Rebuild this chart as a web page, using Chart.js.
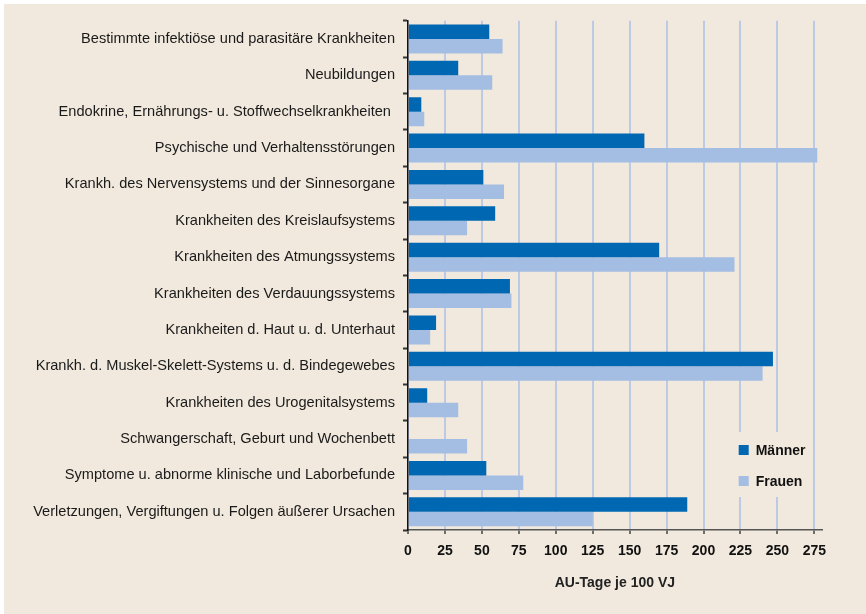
<!DOCTYPE html>
<html>
<head>
<meta charset="utf-8">
<script src="https://cdn.jsdelivr.net/npm/chart.js@4/dist/chart.umd.min.js"></script>
<style>
  html, body { margin: 0; padding: 0; background: #ffffff; overflow: hidden; }
  #wrap { position: absolute; left: 4px; top: 4px; width: 862px; height: 610px; }
</style>
</head>
<body>
<div id="wrap"><canvas id="chart" width="862" height="610"></canvas></div>
<script>
// Diagnosis groups (ICD chapters)
const categories = [
  "Bestimmte infektiöse und parasitäre Krankheiten",
  "Neubildungen",
  "Endokrine, Ernährungs- u. Stoffwechselkrankheiten ",
  "Psychische und Verhaltensstörungen",
  "Krankh. des Nervensystems und der Sinnesorgane",
  "Krankheiten des Kreislaufsystems",
  "Krankheiten des Atmungssystems",
  "Krankheiten des Verdauungssystems",
  "Krankheiten d. Haut u. d. Unterhaut",
  "Krankh. d. Muskel-Skelett-Systems u. d. Bindegewebes",
  "Krankheiten des Urogenitalsystems",
  "Schwangerschaft, Geburt und Wochenbett",
  "Symptome u. abnorme klinische und Laborbefunde",
  "Verletzungen, Vergiftungen u. Folgen äußerer Ursachen"
];

// AU-Tage je 100 VJ
const maenner = [55, 34, 9, 160, 51, 59, 170, 69, 19, 247, 13, 0, 53, 189];
const frauen  = [64, 57, 11, 277, 65, 40, 221, 70, 15, 240, 34, 40, 78, 125];

const xTickValues = [0, 25, 50, 75, 100, 125, 150, 175, 200, 225, 250, 275];
const xMax = 280;

const seriesNames = ["Männer", "Frauen"];
const axisTitle = "AU-Tage je 100 VJ";

const COL_BG = "#f1e9dd";
const COL_M = "#0067b2";
const COL_F = "#a4bde3";
const COL_GRID = "#bccbe3";
const FONT = "'Liberation Sans', Arial, Helvetica, sans-serif";

// Beige canvas background
const background = {
  id: "background",
  beforeDraw(chart) {
    const ctx = chart.ctx;
    ctx.save();
    ctx.fillStyle = COL_BG;
    ctx.fillRect(0, 0, chart.width, chart.height);
    ctx.restore();
  }
};

// Legend box inside the plot area, lower right
const insideLegend = {
  id: "insideLegend",
  afterDraw(chart) {
    const ctx = chart.ctx;
    const area = chart.chartArea;
    const bx = area.right - 112, by = area.bottom - 98;
    ctx.save();
    ctx.fillStyle = COL_BG;
    ctx.fillRect(bx, by, 100, 65);
    ctx.font = "bold 14px " + FONT;
    ctx.textBaseline = "middle";
    ctx.textAlign = "left";
    chart.data.datasets.forEach((ds, i) => {
      const cy = by + 18 + i * 31;
      ctx.fillStyle = ds.backgroundColor;
      ctx.fillRect(bx + 29, cy - 5, 10, 10);
      ctx.fillStyle = "#111111";
      ctx.fillText(ds.label, bx + 46, cy + 1);
    });
    ctx.restore();
  }
};

new Chart(document.getElementById("chart"), {
  type: "bar",
  data: {
    labels: categories,
    datasets: [
      { label: seriesNames[0], data: maenner, backgroundColor: COL_M, borderWidth: 0 },
      { label: seriesNames[1], data: frauen, backgroundColor: COL_F, borderWidth: 0 }
    ]
  },
  options: {
    indexAxis: "y",
    responsive: false,
    animation: false,
    devicePixelRatio: 1,
    layout: { padding: { left: 0, right: 44.3, top: 16, bottom: 0 } },
    datasets: { bar: { categoryPercentage: 0.8, barPercentage: 1.0 } },
    plugins: {
      legend: { display: false },
      tooltip: { enabled: false }
    },
    scales: {
      x: {
        type: "linear",
        min: 0,
        max: xMax,
        afterBuildTicks(scale) {
          scale.ticks = xTickValues.map(v => ({ value: v }));
        },
        afterFit(scale) { scale.height = 84; },
        grid: {
          color: COL_GRID,
          lineWidth: 2,
          drawTicks: true,
          tickLength: 4,
          tickColor: "#444444",
          tickWidth: 1.5
        },
        border: { display: true, color: "#555555", width: 1.5 },
        ticks: {
          padding: 9,
          color: "#111111",
          font: { family: FONT, size: 14, weight: "bold" },
          maxRotation: 0
        },
        title: {
          display: true,
          text: axisTitle,
          color: "#222222",
          font: { family: FONT, size: 14, weight: "bold" },
          padding: { top: 0, bottom: 22.6 }
        }
      },
      y: {
        type: "category",
        afterFit(scale) { scale.width = 404; },
        grid: {
          offset: true,
          drawOnChartArea: false,
          drawTicks: true,
          tickLength: 5,
          tickColor: "#333333",
          tickWidth: 2
        },
        border: { display: true, color: "#111111", width: 1.5 },
        ticks: {
          padding: 8,
          color: "#1a1a1a",
          font: { family: FONT, size: 14.6 },
          autoSkip: false
        }
      }
    }
  },
  plugins: [background, insideLegend]
});
</script>
</body>
</html>
